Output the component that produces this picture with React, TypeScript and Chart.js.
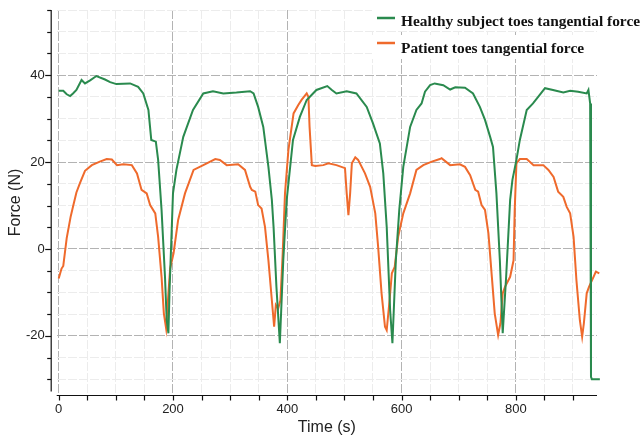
import React, { useEffect, useRef } from "react";
import { Chart, registerables } from "chart.js";

Chart.register(...registerables);

const healthyTime = [0, 8, 14, 20, 25, 31, 40, 46, 55, 66, 81, 90, 101, 125, 139, 148, 157, 162, 170, 174, 180, 186, 189, 192, 194, 200, 206, 218, 235, 253, 270, 288, 311, 335, 341, 349, 358, 367, 373, 376, 381, 387, 393, 399, 410, 422, 434, 451, 470, 478, 486, 504, 521, 539, 550, 562, 568, 574, 580, 584, 590, 596, 603, 615, 626, 635, 641, 650, 658, 673, 685, 694, 711, 725, 737, 746, 755, 760, 766, 772, 777, 783, 790, 794, 801, 807, 819, 830, 839, 851, 865, 883, 895, 909, 924, 927, 930, 931.5, 933, 947];
const healthyForce = [36.4, 36.4, 35.6, 35.2, 35.8, 36.6, 38.9, 38.1, 38.8, 39.8, 39.0, 38.4, 37.95, 38.1, 37.3, 35.8, 32.0, 25.1, 24.7, 20.5, 9.0, -6.4, -16.4, -19.4, -9.5, 12.8, 18.2, 25.8, 32.0, 35.8, 36.3, 35.8, 36.0, 36.3, 35.8, 32.7, 28.1, 18.9, 11.3, 5.1, -8.7, -21.7, -2.6, 11.3, 25.1, 30.4, 34.3, 36.6, 37.5, 36.6, 35.8, 36.3, 35.8, 32.7, 28.9, 24.3, 17.4, 5.1, -14.1, -21.7, -2.6, 9.0, 18.9, 28.1, 32.0, 33.5, 36.2, 37.7, 38.1, 37.7, 36.7, 37.2, 37.1, 35.8, 32.7, 29.7, 25.8, 23.5, 12.8, -2.6, -19.4, -6.4, 11.3, 15.9, 20.5, 25.1, 32.0, 33.5, 35.0, 37.0, 36.6, 36.0, 36.4, 36.2, 35.8, 36.6, 33.5, -29.4, -30.0, -30.0];

const patientTime = [0, 5, 8, 14, 21, 25, 31, 37, 46, 58, 72, 84, 93, 102, 113, 128, 137, 145, 154, 160, 169, 174, 180, 184, 188, 192, 195, 201, 209, 221, 236, 253, 274, 282, 294, 314, 326, 335, 338, 344, 349, 355, 361, 367, 373, 377, 380, 384, 388, 392, 396, 402, 411, 419, 425, 434, 437, 439, 443, 449, 463, 472, 486, 501, 504, 507, 510, 513, 519, 524, 536, 545, 554, 559, 565, 571, 574, 579, 583, 588, 594, 603, 615, 626, 638, 653, 667, 670, 685, 702, 711, 720, 729, 734, 740, 746, 752, 758, 763, 769, 773, 777, 781, 790, 796, 798, 801, 807, 819, 831, 848, 857, 866, 874, 883, 889, 895, 901, 906, 912, 916, 919, 924, 928, 936, 940, 946];
const patientForce = [-6.8, -4.5, -3.9, 2.5, 7.5, 9.7, 13.0, 15.1, 18.0, 19.3, 20.1, 20.7, 20.6, 19.3, 19.5, 19.3, 17.4, 13.6, 12.8, 10.1, 8.2, 2.8, -6.4, -14.8, -18.3, -10.2, -4.5, -1.0, 6.7, 12.8, 18.2, 19.3, 20.7, 20.5, 19.3, 19.5, 18.2, 14.3, 13.6, 13.2, 10.1, 9.3, 5.1, -2.6, -11.8, -17.9, -12.9, -13.7, -11.8, -1.0, 12.8, 22.8, 31.2, 33.1, 34.3, 35.8, 35.0, 28.1, 19.3, 19.1, 19.3, 19.7, 19.3, 18.6, 12.8, 7.8, 12.8, 19.7, 21.1, 20.5, 17.4, 14.3, 8.2, 0.5, -10.2, -17.9, -18.7, -11.8, -5.6, -4.1, 2.8, 8.2, 12.8, 18.2, 19.3, 20.1, 20.7, 20.9, 19.3, 19.5, 18.9, 17.0, 13.6, 13.2, 10.1, 9.0, 3.6, -6.4, -14.8, -19.8, -17.1, -10.2, -8.7, -6.4, -2.6, 9.0, 19.7, 20.7, 20.7, 19.3, 19.3, 18.2, 16.6, 13.2, 12.0, 9.7, 8.2, 2.8, -7.2, -16.4, -20.2, -17.1, -10.2, -8.7, -6.4, -5.2, -5.6];

const seriesLabels = ["Healthy subject toes tangential force", "Patient toes tangential force"];
const seriesColors = ["#2a8a4e", "#ef6a2c"];
const xTitle = "Time (s)";
const yTitle = "Force (N)";

const toPoints = (xs: number[], ys: number[]) => xs.map((x, i) => ({ x, y: ys[i] }));

const axesLegendPlugin = {
  id: "axesLegend",
  afterDraw(chart: any) {
    const { ctx, chartArea, scales } = chart;
    const xs = scales.x;
    const ys = scales.y;
    ctx.save();
    ctx.strokeStyle = "#111";
    ctx.lineWidth = 1.2;
    const yAxisX = chartArea.left - 5.5;
    ctx.beginPath();
    ctx.moveTo(yAxisX, chartArea.top);
    ctx.lineTo(yAxisX, chartArea.bottom - 3.5);
    ctx.stroke();
    ys.ticks.forEach((t: any) => {
      const py = Math.round(ys.getPixelForValue(t.value)) + 0.5;
      const len = t.value % 20 === 0 ? 6 : 4;
      ctx.beginPath();
      ctx.moveTo(yAxisX - len, py);
      ctx.lineTo(yAxisX, py);
      ctx.stroke();
    });
    const xAxisY = chartArea.bottom + 0.5;
    ctx.beginPath();
    ctx.moveTo(chartArea.left, xAxisY);
    ctx.lineTo(chartArea.right, xAxisY);
    ctx.stroke();
    xs.ticks.forEach((t: any) => {
      const px = Math.round(xs.getPixelForValue(t.value)) + 0.5;
      ctx.beginPath();
      ctx.moveTo(px, xAxisY);
      ctx.lineTo(px, xAxisY + 5);
      ctx.stroke();
    });
    const rows = [
      { lineY: 18, textY: 25.5 },
      { lineY: 43, textY: 52.5 },
    ];
    ctx.fillStyle = "#ffffff";
    ctx.fillRect(372, 3, 269, 28);
    ctx.fillRect(372, 35, 269, 24);
    rows.forEach((r, i) => {
      ctx.strokeStyle = seriesColors[i];
      ctx.lineWidth = 2.5;
      ctx.beginPath();
      ctx.moveTo(377, r.lineY);
      ctx.lineTo(395, r.lineY);
      ctx.stroke();
      ctx.fillStyle = "#111";
      ctx.font = "bold 15.4px 'Liberation Serif', 'Times New Roman', serif";
      ctx.textAlign = "left";
      ctx.textBaseline = "alphabetic";
      ctx.fillText(seriesLabels[i], 401, r.textY);
    });
    ctx.restore();
  },
};

export default function App() {
  const canvasRef = useRef<HTMLCanvasElement | null>(null);

  useEffect(() => {
    if (!canvasRef.current) return;
    const gridColor = (c: any) => {
      const v = c.tick ? c.tick.value : 0;
      const major = c.scale.axis === "x" ? v % 200 === 0 : v % 20 === 0;
      return major ? "#b3b3b3" : "#ececec";
    };
    const zeroPad = (s: any) => {
      s.paddingTop = 0;
      s.paddingBottom = 0;
      s.paddingLeft = 0;
      s.paddingRight = 0;
    };
    const chart = new Chart(canvasRef.current, {
      type: "line",
      data: {
        datasets: [
          {
            label: seriesLabels[0],
            data: toPoints(healthyTime, healthyForce),
            borderColor: seriesColors[0],
            backgroundColor: seriesColors[0],
            borderWidth: 2,
            pointRadius: 0,
            tension: 0,
            clip: false as any,
          },
          {
            label: seriesLabels[1],
            data: toPoints(patientTime, patientForce),
            borderColor: seriesColors[1],
            backgroundColor: seriesColors[1],
            borderWidth: 2,
            pointRadius: 0,
            tension: 0,
            clip: false as any,
          },
        ],
      },
      options: {
        responsive: false,
        animation: false,
        layout: { padding: { top: 10, right: 44, left: 0, bottom: 0 } },
        plugins: { legend: { display: false }, tooltip: { enabled: false } },
        scales: {
          x: {
            type: "linear",
            min: -3.5,
            max: 942,
            afterFit: (s: any) => {
              s.height = 44;
              zeroPad(s);
            },
            ticks: {
              stepSize: 50,
              includeBounds: false,
              autoSkip: false,
              maxRotation: 0,
              padding: 7,
              color: "#222",
              font: { family: "'Liberation Sans', Arial, sans-serif", size: 13 },
              callback: (v: any) => (v % 200 === 0 ? String(v) : ""),
            },
            grid: { color: gridColor, lineWidth: 1, drawTicks: false },
            border: { display: false, dash: [9, 2] },
            title: {
              display: true,
              text: xTitle,
              color: "#222",
              font: { family: "'Liberation Sans', Arial, sans-serif", size: 16 },
              padding: { top: 0, bottom: 1.4 },
            },
          },
          y: {
            type: "linear",
            min: -33.6,
            max: 55,
            afterFit: (s: any) => {
              s.width = 56.7;
              zeroPad(s);
            },
            ticks: {
              stepSize: 5,
              includeBounds: false,
              autoSkip: false,
              padding: 12,
              color: "#222",
              font: { family: "'Liberation Sans', Arial, sans-serif", size: 13 },
              callback: (v: any) => (v % 20 === 0 ? String(v) : ""),
            },
            grid: { color: gridColor, lineWidth: 1, drawTicks: false },
            border: { display: false, dash: [9, 2] },
            title: {
              display: true,
              text: yTitle,
              color: "#222",
              font: { family: "'Liberation Sans', Arial, sans-serif", size: 16 },
              padding: { top: 6, bottom: 0 },
            },
          },
        },
      },
      plugins: [axesLegendPlugin],
    });
    return () => chart.destroy();
  }, []);

  return (
    <div style={{ position: "fixed", left: 0, top: 0, width: 641, height: 439, background: "#fff" }}>
      <canvas ref={canvasRef} width={641} height={439} style={{ display: "block", width: 641, height: 439 }} />
    </div>
  );
}
